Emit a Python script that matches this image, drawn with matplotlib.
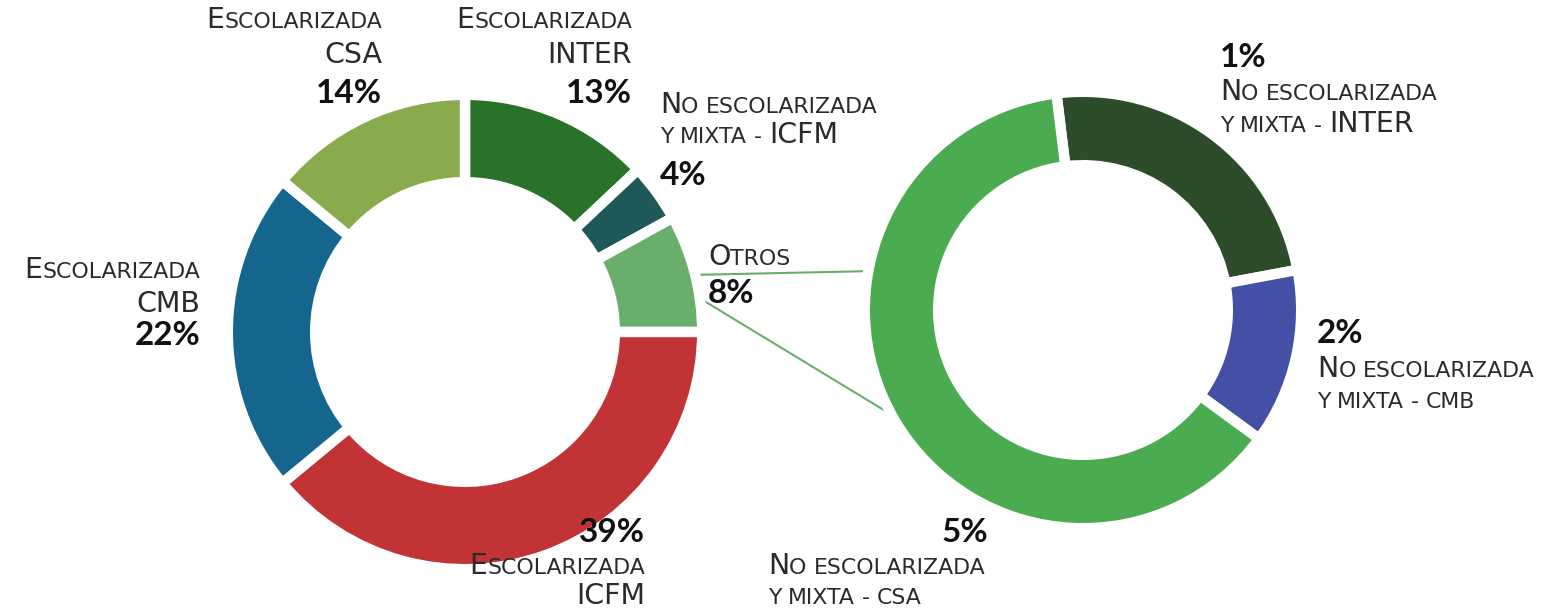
import matplotlib
matplotlib.use('Agg')
import matplotlib.pyplot as plt

W, H = 1550, 609

# left donut: share of each group (%)
main_labels = ['Escolarizada\nINTER', 'No escolarizada\ny mixta - ICFM', 'Otros',
               'Escolarizada\nICFM', 'Escolarizada\nCMB', 'Escolarizada\nCSA']
main_values = [13, 4, 8, 39, 22, 14]
main_colors = ['#2a7229', '#1f5858', '#6aae6b', '#c13335', '#15668f', '#89ab4e']

# right donut: breakdown of "Otros" (angular share)
sub_labels = ['No escolarizada\ny mixta - INTER', 'No escolarizada\ny mixta - cmb',
              'No escolarizada\ny mixta - csa']
sub_pct = ['1%', '2%', '5%']
sub_values = [24, 13, 63]
sub_colors = ['#2c4c2a', '#4450a6', '#4aab50']

FONT = 'DejaVu Sans'
PFONT = 'Lato'
SMALL = 15.8
BIG = 20.5
PCT = 24
TXT = '#2a2a2a'

fig = plt.figure(figsize=(W / 100, H / 100), dpi=100)
ax = fig.add_axes([0, 0, 1, 1])

gap = 7.5  # white separation between wedges (pt)
gap_px = gap * 100 / 72

ax.pie(main_values, colors=main_colors, startangle=90, counterclock=False,
       center=(465, H - 332), radius=232 + gap_px / 2,
       wedgeprops=dict(width=77 + gap_px, edgecolor='white', linewidth=gap))
ax.pie(sub_values, colors=sub_colors, startangle=97, counterclock=False,
       center=(1083, H - 310), radius=213 + gap_px / 2,
       wedgeprops=dict(width=63 + gap_px, edgecolor='white', linewidth=gap))

# connector lines between "Otros" and the breakdown donut
ax.plot([689, 875], [H - 275, H - 271], color='#6aae6b', lw=1.5, zorder=0)
ax.plot([691, 897], [H - 293, H - 418], color='#6aae6b', lw=1.5, zorder=0)

ax.set_xlim(0, W)
ax.set_ylim(0, H)
ax.axis('off')

renderer = fig.canvas.get_renderer()


def runs(s):
    out = []
    for ch in s:
        kind = 'sp' if ch == ' ' else ('big' if ch.isupper() else 'small')
        if out and out[-1][0] == kind:
            out[-1][1] += ch
        else:
            out.append([kind, ch])
    return out


def sc_line(x, y, s, ha='left'):
    # fake small caps: lower case letters drawn as smaller capitals
    items = []
    for kind, chunk in runs(s):
        if kind == 'sp':
            items.append((None, len(chunk) * 0.318 * SMALL * 100 / 72))
            continue
        size = BIG if kind == 'big' else SMALL
        t = ax.text(0, H - y, chunk.upper(), fontsize=size, family=FONT,
                    va='baseline', ha='left', color=TXT)
        items.append((t, t.get_window_extent(renderer).width))
    total = sum(w for _, w in items)
    x0 = x - total if ha == 'right' else x
    for t, w in items:
        if t is not None:
            t.set_x(x0)
        x0 += w


def label(x, ys, text, pct, ha, pct_first=False):
    lines = text.split('\n')
    if pct_first:
        py, ly = ys[0], ys[1:]
    else:
        ly, py = ys[:-1], ys[-1]
    for yy, ln in zip(ly, lines):
        sc_line(x, yy, ln, ha)
    ax.text(x, H - py, pct, fontsize=PCT, family=PFONT, weight='bold',
            va='baseline', ha=ha, color='#111111')


# left donut labels
label(632, [28, 63, 103], main_labels[0], '%d%%' % main_values[0], 'right')
label(660, [113, 143, 185], main_labels[1], '%d%%' % main_values[1], 'left')
label(708, [265, 303], main_labels[2], '%d%%' % main_values[2], 'left')
label(645, [542, 574, 604], main_labels[3], '%d%%' % main_values[3], 'right', True)
label(200, [278, 312, 345], main_labels[4], '%d%%' % main_values[4], 'right')
label(382, [28, 63, 103], main_labels[5], '%d%%' % main_values[5], 'right')

# right donut labels
label(1220, [67, 100, 132], sub_labels[0], sub_pct[0], 'left', True)
label(1317, [343, 377, 408], sub_labels[1], sub_pct[1], 'left', True)
sc_line(768, 574, sub_labels[2].split('\n')[0])
sc_line(768, 604, sub_labels[2].split('\n')[1])
ax.text(988, H - 542, sub_pct[2], fontsize=PCT, family=PFONT, weight='bold',
        va='baseline', ha='right', color='#111111')

fig.savefig('out.png', dpi=100)
